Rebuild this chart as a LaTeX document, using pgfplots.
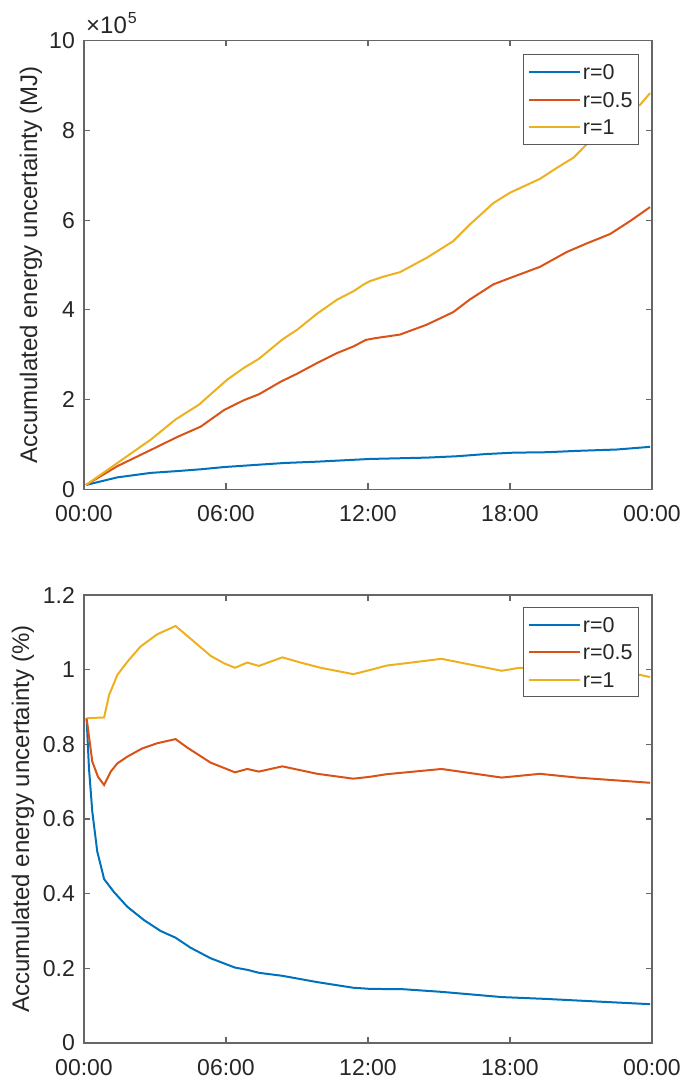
\documentclass[border=0pt]{standalone}
\usepackage{pgfplots}
\pgfplotsset{compat=1.18}
\usepackage{fontspec}
\setmainfont{Liberation Sans}
\definecolor{c1}{rgb}{0,0.447,0.741}
\definecolor{c2}{rgb}{0.850,0.325,0.098}
\definecolor{c3}{rgb}{0.929,0.694,0.125}
\definecolor{tx}{RGB}{38,38,38}
\pgfplotsset{
  mystyle/.style={
    scale only axis, width=568pt,
    xmin=0, xmax=24,
    xtick={0,6,12,18,24},
    xticklabels={00:00,06:00,12:00,18:00,00:00},
    /pgf/number format/assume math mode=true,
    tick align=inside,
    major tick length=6pt,
    axis line style={black!60, line width=1.1pt},
    every tick/.style={black!60, line width=1.1pt},
    tick label style={font=\fontsize{23}{23}\selectfont, text=tx},
    xticklabel style={anchor=base, inner sep=0pt, yshift=-32.5pt},
    yticklabel style={anchor=east, inner sep=0pt, xshift=-9pt},
    label style={font=\fontsize{24}{24}\selectfont, text=tx},
    legend style={at={(1,1)}, anchor=north east, draw=black!65, line width=1pt,
      font=\fontsize{21.5}{21.5}\selectfont, text=tx,
      inner xsep=4pt, inner ysep=7.5pt, row sep=8pt,
      nodes={inner sep=2pt, text height=15.5pt, text depth=0pt}},
    legend cell align=left,
    legend image code/.code={\draw[#1, line width=2pt] (0pt,0pt) -- (51pt,0pt);},
    every axis plot/.append style={line width=2pt},
  }
}
\begin{document}
\begin{tikzpicture}
\useasboundingbox (-84pt,-36pt) rectangle (600pt,1043pt);
% top
\begin{axis}[mystyle, name=topax, at={(0pt,553.5pt)}, anchor=south west, height=449pt,
  ymin=0, ymax=10, ytick={0,2,4,6,8,10},
  scaled y ticks=false,
  ylabel={Accumulated energy uncertainty (MJ)},
  ylabel style={at={(axis description cs:-0.0933,0.5)}, anchor=center, rotate=0},
  legend style={xshift=-13pt, yshift=-14pt}]
\addplot[c1] table {
0.08 0.10
1.41 0.27
2.82 0.37
3.94 0.41
4.93 0.45
5.92 0.50
7.32 0.55
8.45 0.59
9.86 0.62
12.08 0.68
14.48 0.71
15.74 0.74
17.00 0.79
18.14 0.82
19.55 0.83
20.82 0.86
22.50 0.89
23.92 0.95
};
\addlegendentry{r=0}
\addplot[c2] table {
0.08 0.10
1.41 0.52
2.82 0.88
3.94 1.17
4.93 1.40
5.92 1.77
6.76 1.99
7.39 2.12
8.31 2.40
9.01 2.58
9.86 2.82
10.70 3.04
11.40 3.19
11.90 3.33
12.30 3.37
13.35 3.45
14.48 3.67
15.60 3.95
16.30 4.23
17.30 4.57
18.00 4.71
19.27 4.96
20.40 5.29
21.24 5.48
22.23 5.69
23.08 5.98
23.92 6.29
};
\addlegendentry{r=0.5}
\addplot[c3] table {
0.08 0.10
1.41 0.59
2.82 1.11
3.87 1.56
4.86 1.89
5.35 2.12
6.06 2.45
6.76 2.71
7.39 2.91
8.38 3.34
9.01 3.56
9.86 3.92
10.70 4.23
11.40 4.42
11.83 4.57
12.08 4.64
12.65 4.74
13.35 4.84
14.48 5.16
15.60 5.53
16.30 5.90
17.30 6.38
18.00 6.61
19.27 6.92
19.97 7.16
20.68 7.39
21.38 7.76
22.20 8.10
23.00 8.40
23.50 8.57
23.92 8.83
};
\addlegendentry{r=1}
\end{axis}
\node[anchor=base west, inner sep=0pt, text=tx]
  (e10) at (2pt,1009pt) {\scalebox{2.4}{\normalsize ×10}};
\node[anchor=base west, inner sep=0pt, text=tx]
  at ([xshift=0.5pt, yshift=10pt]e10.base east) {\scalebox{1.6}{\normalsize 5}};
% bottom
\begin{axis}[mystyle, at={(0pt,0pt)}, anchor=south west, height=448pt,
  ymin=0, ymax=1.2, ytick={0,0.2,0.4,0.6,0.8,1,1.2},
  ylabel={Accumulated energy uncertainty (\%)},
  ylabel style={at={(axis description cs:-0.1074,0.5)}, anchor=center, rotate=0},
  legend style={xshift=-13pt, yshift=-12pt}]
\addplot[c1] table {
0.11 0.870
0.21 0.736
0.35 0.620
0.56 0.513
0.85 0.439
1.27 0.404
1.83 0.365
2.54 0.329
3.24 0.300
3.87 0.282
4.51 0.255
5.35 0.227
6.38 0.202
6.90 0.196
7.39 0.188
8.38 0.180
9.86 0.163
11.38 0.148
12.08 0.145
13.50 0.144
15.11 0.137
17.65 0.123
19.55 0.118
21.24 0.1125
23.92 0.104
};
\addlegendentry{r=0}
\addplot[c2] table {
0.11 0.870
0.35 0.754
0.59 0.713
0.85 0.691
1.13 0.727
1.41 0.749
1.83 0.767
2.46 0.789
3.10 0.803
3.87 0.814
4.37 0.791
5.35 0.751
6.38 0.725
6.90 0.734
7.39 0.727
8.38 0.741
9.86 0.721
11.38 0.708
12.08 0.713
12.79 0.720
15.11 0.734
17.65 0.711
19.27 0.721
20.82 0.711
23.92 0.697
};
\addlegendentry{r=0.5}
\addplot[c3] table {
0.11 0.870
0.85 0.872
1.06 0.932
1.41 0.986
1.83 1.021
2.39 1.062
3.10 1.095
3.87 1.117
4.65 1.075
5.35 1.037
5.92 1.017
6.38 1.005
6.90 1.019
7.39 1.010
8.38 1.033
9.15 1.019
10.00 1.005
11.38 0.988
12.08 0.999
12.79 1.011
15.11 1.029
17.65 0.997
18.40 1.005
20.00 1.000
21.50 0.995
23.00 0.988
23.50 0.986
23.92 0.980
};
\addlegendentry{r=1}
\end{axis}
\end{tikzpicture}
\end{document}
